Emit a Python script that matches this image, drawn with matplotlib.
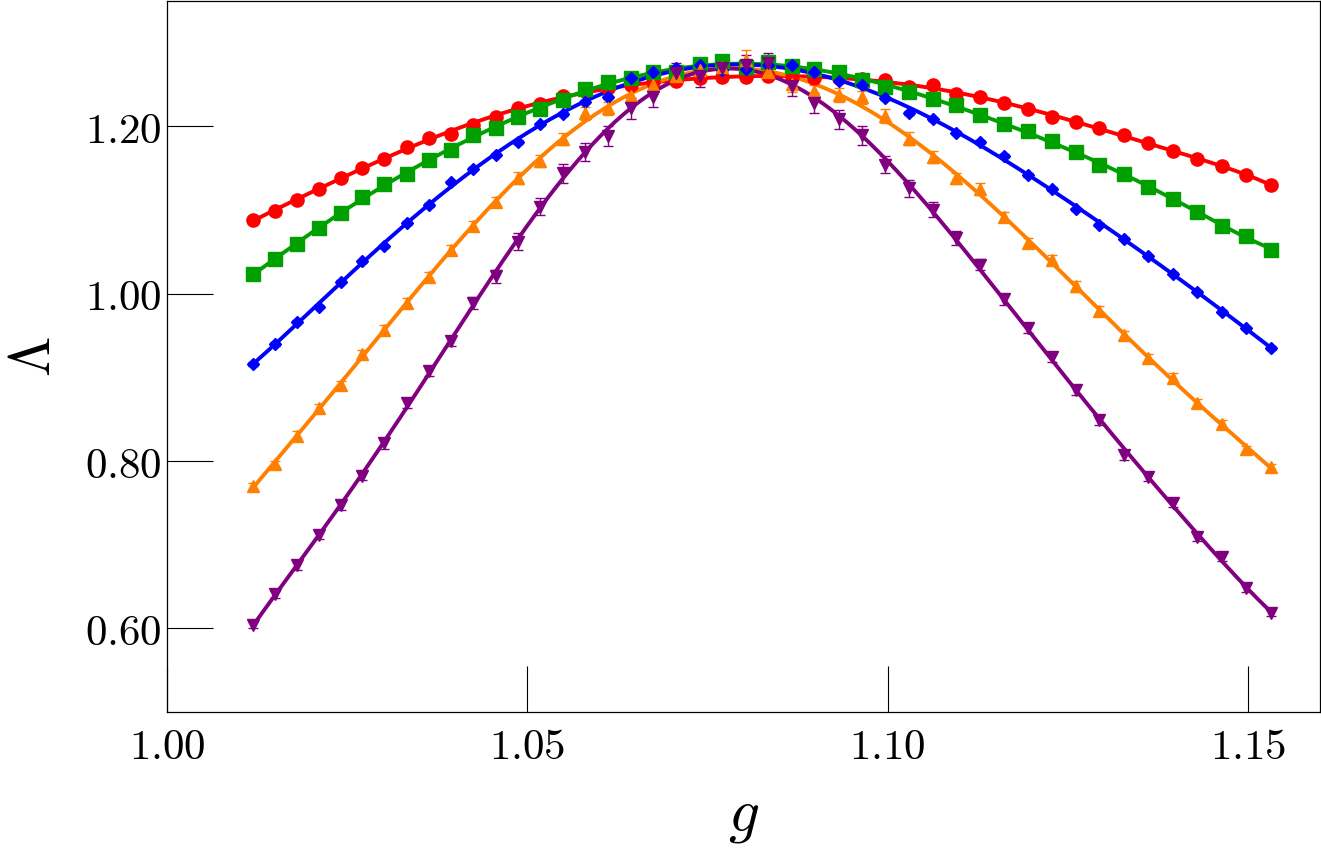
import numpy as np
import matplotlib
matplotlib.use("Agg")
import matplotlib.pyplot as plt
from matplotlib.ticker import FixedLocator, FormatStrFormatter

plt.rcParams['mathtext.fontset'] = 'cm'
plt.rcParams['font.family'] = ['DejaVu Serif']

# ---------------- data ----------------
g = [1.0120, 1.0150, 1.0180, 1.0211, 1.0241, 1.0271, 1.0301, 1.0333, 1.0363,
     1.0394, 1.0424, 1.0456, 1.0487, 1.0518, 1.0549, 1.0580, 1.0612, 1.0644,
     1.0675, 1.0707, 1.0739, 1.0770, 1.0803, 1.0834, 1.0867, 1.0898, 1.0932,
     1.0964, 1.0996, 1.1029, 1.1063, 1.1095, 1.1128, 1.1162, 1.1195, 1.1228,
     1.1261, 1.1293, 1.1328, 1.1362, 1.1396, 1.1430, 1.1464, 1.1498, 1.1532]

red = [1.0884, 1.0995, 1.1117, 1.1253, 1.1387, 1.1506, 1.1616, 1.1755, 1.1862,
       1.1913, 1.2020, 1.2112, 1.2225, 1.2270, 1.2370, 1.2421, 1.2462, 1.2498,
       1.2528, 1.2545, 1.2575, 1.2595, 1.2587, 1.2607, 1.2593, 1.2581, 1.2575,
       1.2567, 1.2560, 1.2477, 1.2496, 1.2389, 1.2358, 1.2282, 1.2210, 1.2112,
       1.2052, 1.1981, 1.1894, 1.1806, 1.1708, 1.1607, 1.1529, 1.1419, 1.1300]

green = [1.0242, 1.0412, 1.0594, 1.0784, 1.0963, 1.1161, 1.1307, 1.1434, 1.1597,
         1.1723, 1.1894, 1.1981, 1.2112, 1.2210, 1.2320, 1.2448, 1.2536, 1.2575,
         1.2646, 1.2650, 1.2745, 1.2777, 1.2706, 1.2765, 1.2718, 1.2690, 1.2655,
         1.2560, 1.2468, 1.2417, 1.2329, 1.2251, 1.2139, 1.2032, 1.1942, 1.1826,
         1.1693, 1.1538, 1.1426, 1.1280, 1.1134, 1.0974, 1.0816, 1.0694, 1.0528]

blue = [0.9161, 0.9399, 0.9667, 0.9846, 1.0143, 1.0389, 1.0567, 1.0844, 1.1062,
        1.1331, 1.1497, 1.1664, 1.1815, 1.2026, 1.2151, 1.2298, 1.2349, 1.2581,
        1.2655, 1.2694, 1.2739, 1.2676, 1.2682, 1.2733, 1.2733, 1.2646, 1.2548,
        1.2496, 1.2337, 1.2163, 1.2084, 1.1925, 1.1815, 1.1648, 1.1419, 1.1253,
        1.1011, 1.0828, 1.0658, 1.0448, 1.0242, 1.0026, 0.9786, 0.9586, 0.9351]

orange = [0.7703, 0.7964, 0.8305, 0.8638, 0.8911, 0.9280, 0.9565, 0.9893, 1.0202,
          1.0519, 1.0813, 1.1102, 1.1387, 1.1585, 1.1850, 1.2157, 1.2215, 1.2370,
          1.2492, 1.2599, 1.2670, 1.2706, 1.2795, 1.2646, 1.2507, 1.2419, 1.2377,
          1.2349, 1.2124, 1.1854, 1.1636, 1.1378, 1.1253, 1.0923, 1.0606, 1.0409,
          1.0087, 0.9790, 0.9506, 0.9230, 0.8998, 0.8689, 0.8443, 0.8145, 0.7926]

purple = [0.6039, 0.6407, 0.6752, 0.7120, 0.7469, 0.7822, 0.8210, 0.8693, 0.9073,
          0.9430, 0.9893, 1.0210, 1.0622, 1.1042, 1.1438, 1.1696, 1.1886, 1.2215,
          1.2355, 1.2643, 1.2607, 1.2694, 1.2730, 1.2762, 1.2488, 1.2284, 1.2084,
          1.1894, 1.1545, 1.1260, 1.1003, 1.0665, 1.0349, 0.9933, 0.9596, 0.9239,
          0.8844, 0.8491, 0.8071, 0.7806, 0.7497, 0.7097, 0.6856, 0.6487, 0.6182]

err_orange = [0.004, 0.004, 0.005, 0.005, 0.005, 0.005, 0.006, 0.006, 0.006,
              0.006, 0.006, 0.006, 0.007, 0.007, 0.007, 0.008, 0.008, 0.008,
              0.008, 0.009, 0.009, 0.010, 0.012, 0.010, 0.009, 0.008, 0.008,
              0.008, 0.008, 0.008, 0.007, 0.007, 0.007, 0.006, 0.006, 0.006,
              0.006, 0.006, 0.005, 0.005, 0.005, 0.005, 0.005, 0.004, 0.004]

err_purple = [0.004, 0.004, 0.005, 0.005, 0.005, 0.005, 0.006, 0.006, 0.006,
              0.006, 0.007, 0.008, 0.010, 0.010, 0.011, 0.011, 0.012, 0.012,
              0.012, 0.012, 0.013, 0.013, 0.012, 0.012, 0.012, 0.012, 0.011,
              0.011, 0.010, 0.010, 0.009, 0.008, 0.007, 0.007, 0.006, 0.006,
              0.006, 0.006, 0.006, 0.005, 0.005, 0.005, 0.005, 0.005, 0.004]

err_small = 0.002

series = [
    (red, err_small, '#ff0000', 'o', 9.5),
    (green, err_small, '#00a000', 's', 9.5),
    (blue, err_small, '#0000ff', 'D', 5.8),
    (orange, err_orange, '#ff8000', '^', 9.0),
    (purple, err_purple, '#800080', 'v', 9.0),
]

xticks = [1.00, 1.05, 1.10, 1.15]
yticks = [0.60, 0.80, 1.00, 1.20]

# ---------------- figure ----------------
fig = plt.figure(figsize=(13.21, 8.59), dpi=100)
ax = fig.add_axes([167 / 1321, 1 - 712 / 859, (1320 - 167) / 1321, 711 / 859])

gx = np.array(g)
t = (gx - 1.08) / 0.07
tt = np.linspace(t[0], t[-1], 400)
gg = 1.08 + 0.07 * tt

for yv, err, col, mk, ms in series:
    yv = np.array(yv)
    coef = np.polyfit(t, yv, 8)
    ax.plot(gg, np.polyval(coef, tt), '-', color=col, lw=2.8, zorder=2)
    ax.errorbar(gx, yv, yerr=err, fmt=mk, color=col, ms=ms, mec=col,
                elinewidth=1.0, capsize=3.5, capthick=1.0, zorder=3)

ax.set_xlim(1.00, 1.16)
ax.set_ylim(0.50, 1.35)
ax.xaxis.set_major_locator(FixedLocator(xticks))
ax.yaxis.set_major_locator(FixedLocator(yticks))
ax.xaxis.set_major_formatter(FormatStrFormatter(r'$%.2f$'))
ax.yaxis.set_major_formatter(FormatStrFormatter(r'$%.2f$'))
ax.tick_params(axis='both', which='major', direction='in', length=33, width=0.8,
               labelsize=31, top=False, right=False)
ax.tick_params(axis='x', pad=10)
ax.tick_params(axis='y', pad=4)
ax.minorticks_off()
for s in ax.spines.values():
    s.set_linewidth(0.9)

ax.set_xlabel(r'$g$', fontsize=44, labelpad=12)
ax.set_ylabel(r'$\Lambda$', fontsize=42, labelpad=16)

fig.savefig('out.png', dpi=100)
